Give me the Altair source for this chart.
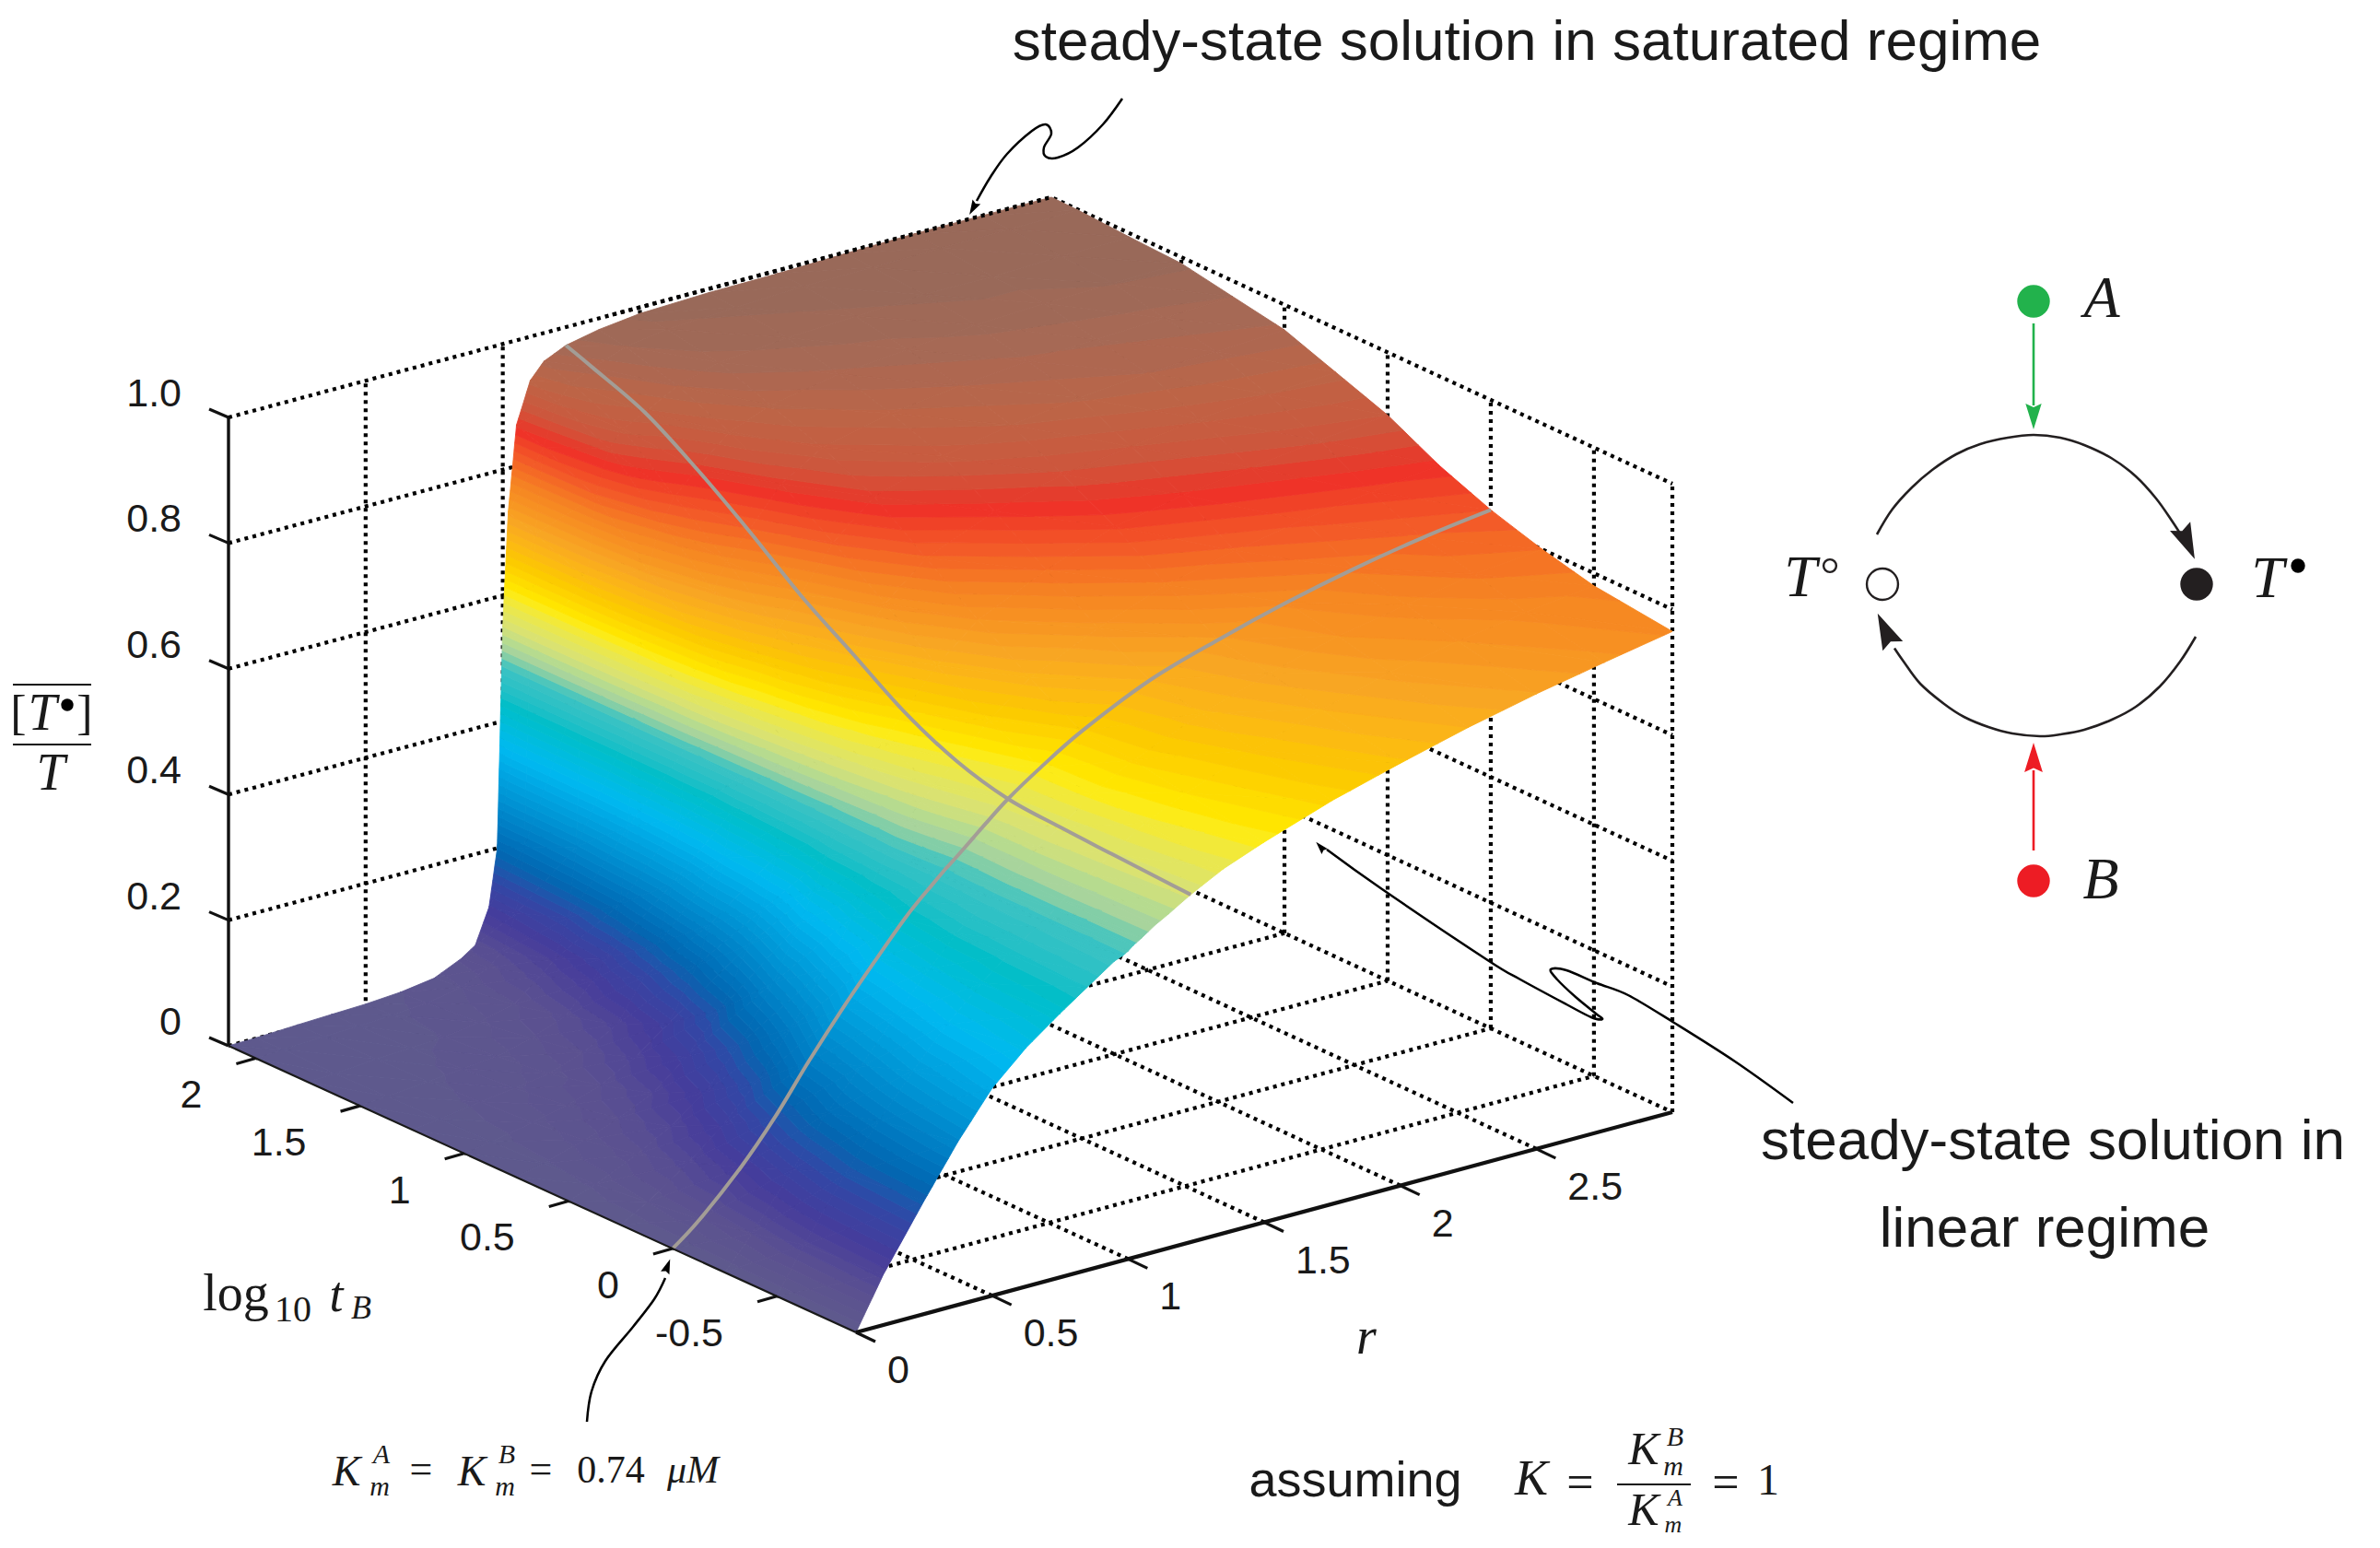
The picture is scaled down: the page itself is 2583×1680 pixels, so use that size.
import altair as alt
import pandas as pd

# ---- surface values --------------------------------------------------------
R_VALUES = [0, .1, .25, .375, .5, .625, .75, .85, .9, .95, .98, 1, 1.02, 1.05, 1.1, 1.15, 1.23, 1.35, 1.5, 1.75, 2, 2.25, 2.5, 2.75, 3]
T_VALUES = [-.88, -.5, -.25, 0, .25, .5, .75, 1, 1.25, 1.5, 1.75, 2, 2.13]
Z_TM088 = [0, .08, .18, .26, .33, .38, .42, .45, .465, .48, .485, .49, .497, .505, .52, .532, .553, .58, .605, .642, .672, .70, .724, .745, .765]
Z_TM050 = [0, .07, .165, .235, .30, .36, .41, .445, .46, .475, .484, .49, .497, .507, .523, .538, .56, .595, .625, .665, .70, .73, .75, .767, .78]
Z_TM025 = [0, .05, .135, .21, .27, .335, .395, .44, .458, .473, .483, .49, .497, .507, .525, .542, .565, .605, .64, .685, .72, .75, .77, .79, .80]
Z_T000 = [0, .035, .10, .165, .24, .31, .375, .425, .447, .467, .479, .487, .494, .505, .524, .543, .572, .608, .648, .70, .735, .765, .79, .81, .825]
Z_T025 = [0, .025, .07, .115, .17, .24, .32, .39, .42, .455, .48, .495, .505, .52, .545, .565, .595, .645, .695, .745, .785, .81, .83, .845, .858]
Z_T050 = [0, .015, .045, .075, .115, .175, .26, .345, .39, .44, .47, .49, .505, .53, .565, .595, .635, .695, .75, .80, .84, .86, .875, .89, .90]
Z_T075 = [0, .01, .03, .05, .075, .12, .18, .27, .32, .40, .45, .485, .515, .55, .605, .645, .69, .755, .81, .855, .885, .90, .915, .925, .93]
Z_T100 = [0, .007, .02, .033, .05, .08, .12, .2, .26, .36, .43, .48, .53, .585, .655, .70, .745, .815, .87, .905, .925, .94, .95, .955, .96]
Z_T125 = [0, .005, .015, .022, .03, .05, .08, .145, .19, .28, .38, .49, .57, .66, .73, .77, .81, .87, .91, .935, .95, .96, .965, .97, .975]
Z_T150 = [0, .003, .01, .015, .02, .035, .055, .10, .13, .21, .33, .50, .62, .73, .80, .835, .87, .915, .94, .96, .97, .98, .985, .988, .99]
Z_T175 = [0, .002, .007, .01, .013, .022, .035, .07, .09, .15, .26, .52, .68, .81, .88, .905, .922, .95, .97, .98, .985, .99, .99, .993, .994]
Z_T200 = [0, .002, .005, .007, .01, .015, .025, .045, .065, .12, .22, .54, .715, .85, .915, .94, .955, .975, .985, .99, .995, .995, .997, .998, .999]
Z_T213 = [0, .001, .004, .006, .008, .012, .02, .04, .055, .11, .2, .55, .73, .865, .93, .955, .971, .982, .99, .994, .995, .998, 1, 1, 1]
Z_ROWS = [Z_TM088, Z_TM050, Z_TM025, Z_T000, Z_T025, Z_T050, Z_T075, Z_T100, Z_T125, Z_T150, Z_T175, Z_T200, Z_T213]

Z_STOPS = [0, .05, .1, .15, .19, .28, .36, .43, .49, .515, .55, .61, .66, .72, .78, .82, .86, .89, .93, .97, 1]
Z_COLORS = ["#5f5a8c", "#5a5091", "#463c9b", "#3246a5", "#0564af", "#0091d2", "#00b9f0", "#00bec8",
            "#3cc3c3", "#a5d2a0", "#d7e178", "#ffeb00", "#fcc800", "#f8a523", "#f58223", "#f35a28", "#ee2d28",
            "#cd553c", "#be6446", "#a56955", "#96695a"]

R_TICKS = [0, .5, 1, 1.5, 2, 2.5]
R_TICK_TEXT = ["0", "0.5", "1", "1.5", "2", "2.5"]
T_TICKS = [-.5, 0, .5, 1, 1.5, 2]
T_TICK_TEXT = ["-0.5", "0", "0.5", "1", "1.5", "2"]
Z_TICKS = [0, .2, .4, .6, .8, 1]
Z_TICK_TEXT = ["0", "0.2", "0.4", "0.6", "0.8", "1.0"]
R_MAX, T_MIN, T_MAX = 3, -.88, 2.13

# corners of the box on the page
CORNER_B, CORNER_C, CORNER_A, CORNER_D = (929, 1446), (1815, 1207), (248, 1135), (1141, 896)
Z_PIXELS = 682


def project(r, t, z):
    u, v = r / R_MAX, (t - T_MIN) / (T_MAX - T_MIN)
    x = (1-u)*(1-v)*CORNER_B[0] + u*(1-v)*CORNER_C[0] + (1-u)*v*CORNER_A[0] + u*v*CORNER_D[0]
    y = (1-u)*(1-v)*CORNER_B[1] + u*(1-v)*CORNER_C[1] + (1-u)*v*CORNER_A[1] + u*v*CORNER_D[1]
    return x, y - Z_PIXELS * z


W, H = 2567, 1664
X = alt.X("x:Q", scale=alt.Scale(domain=[8, 8 + W], nice=False, zero=False), axis=None)
Y = alt.Y("y:Q", scale=alt.Scale(domain=[8 + H, 8], nice=False, zero=False), axis=None)


def lines(groups, color="black", width=2.0, dash=None, interpolate="linear"):
    rows = []
    for g, pts in enumerate(groups):
        for i, (x, y) in enumerate(pts):
            rows.append({"x": x, "y": y, "g": g, "i": i})
    kw = dict(color=color, strokeWidth=width, interpolate=interpolate, clip=False)
    if dash:
        kw["strokeDash"] = dash
    return alt.Chart(pd.DataFrame(rows)).mark_line(**kw).encode(
        x=X, y=Y, detail="g:N", order="i:Q")


def texts(rows, font="Liberation Sans", style="normal", align="center", color="#1a1a1a"):
    df = pd.DataFrame(rows, columns=["x", "y", "t", "s"])
    return alt.Chart(df).mark_text(font=font, fontStyle=style, align=align, baseline="middle", color=color).encode(
        x=X, y=Y, text="t:N", size=alt.Size("s:Q", scale=None, legend=None))


def dots(rows, filled=True, stroke=None, width=0):
    df = pd.DataFrame(rows, columns=["x", "y", "s", "c"])
    kw = dict(filled=True, opacity=1, shape="circle")
    if stroke:
        kw.update(stroke=stroke, strokeWidth=width)
    return alt.Chart(df).mark_point(**kw).encode(
        x=X, y=Y, size=alt.Size("s:Q", scale=None, legend=None), fill=alt.Fill("c:N", scale=None, legend=None))


def heads(rows):
    df = pd.DataFrame(rows, columns=["x", "y", "a", "s", "c"])
    return alt.Chart(df).mark_point(filled=True, opacity=1, shape="M0,-1L0.62,1L0,0.72L-0.62,1Z").encode(
        x=X, y=Y, angle=alt.Angle("a:Q", scale=None),
        size=alt.Size("s:Q", scale=None, legend=None), fill=alt.Fill("c:N", scale=None, legend=None))


# ---- surface: height bands clipped out of every triangle of the grid --------
LEVELS = 80


def clip(poly, level, keep_above):
    out = []
    for i, a in enumerate(poly):
        b = poly[(i + 1) % len(poly)]
        ina = a[2] >= level if keep_above else a[2] <= level
        inb = b[2] >= level if keep_above else b[2] <= level
        if ina:
            out.append(a)
        if ina != inb:
            f = (level - a[2]) / (b[2] - a[2])
            out.append((a[0] + f*(b[0]-a[0]), a[1] + f*(b[1]-a[1]), level))
    return out


features = []


def add_triangle(tri):
    lo = min(p[2] for p in tri)
    hi = max(p[2] for p in tri)
    for k in range(LEVELS):
        a, b = k / LEVELS, (k + 1) / LEVELS
        if b < lo or a > hi:
            continue
        poly = clip(clip(tri, a, True), b, False)
        if len(poly) < 3:
            continue
        ring = [[round(p[0], 1), round(p[1], 1)] for p in poly]
        ring.append(ring[0])
        features.append({"type": "Feature", "properties": {"z": (a + b) / 2},
                         "geometry": {"type": "Polygon", "coordinates": [ring]}})


def node(i, j):
    x, y = project(R_VALUES[j], T_VALUES[i], Z_ROWS[i][j])
    return (x, y, Z_ROWS[i][j])


for i in range(len(T_VALUES) - 2, -1, -1):
    for j in range(len(R_VALUES) - 2, -1, -1):
        add_triangle([node(i + 1, j + 1), node(i + 1, j), node(i, j + 1)])
        add_triangle([node(i, j), node(i, j + 1), node(i + 1, j)])

color_scale = alt.Scale(domain=Z_STOPS, range=Z_COLORS)
surface = alt.Chart(alt.Data(values=features)).mark_geoshape(strokeWidth=0.9).encode(
    color=alt.Color("properties.z:Q", scale=color_scale, legend=None),
    stroke=alt.Stroke("properties.z:Q", scale=color_scale, legend=None),
).project(type="identity", scale=1, translate=[-8, -8])

# ---- dotted box ---------------------------------------------------------------
DOT = [4, 5]
grid = []
for z in Z_TICKS:
    grid.append([project(0, T_MAX, z), project(R_MAX, T_MAX, z), project(R_MAX, T_MIN, z)])
for r in R_TICKS[1:]:
    grid.append([project(r, T_MAX, 0), project(r, T_MAX, 1)])
    grid.append([project(r, T_MIN, 0), project(r, T_MAX, 0)])
for t in T_TICKS:
    grid.append([project(R_MAX, t, 0), project(R_MAX, t, 1)])
    grid.append([project(0, t, 0), project(R_MAX, t, 0)])
grid.append([project(R_MAX, T_MAX, 0), project(R_MAX, T_MAX, 1)])
grid.append([project(R_MAX, T_MIN, 0), project(R_MAX, T_MIN, 1)])
dotted = lines(grid, width=4.2, dash=DOT)
top_edge = lines([[project(1.4, T_MAX, 1), project(R_MAX, T_MAX, 1)]], width=4.2, dash=DOT)

# gray curves on the surface
i0 = T_VALUES.index(0)
j0 = R_VALUES.index(1.23)
gray = lines([[project(r, 0, z) for r, z in zip(R_VALUES, Z_ROWS[i0])],
              [project(1.23, t, row[j0]) for t, row in zip(T_VALUES, Z_ROWS)]],
             color="#a39d96", width=4, interpolate="cardinal")

# solid axes and ticks
z_axis = lines([[project(0, T_MAX, 0), project(0, T_MAX, 1)]], color="#111", width=3.4)
t_axis = lines([[project(0, T_MIN, 0), project(0, T_MAX, 0)]], color="#1a1a1a", width=2.2)
r_axis = lines([[project(0, T_MIN, 0), project(R_MAX, T_MIN, 0)]], color="#111", width=4.2)
tick_segs = []
for z in Z_TICKS:
    x, y = project(0, T_MAX, z)
    tick_segs.append([(x, y), (x - 21, y - 9)])
for t in T_TICKS:
    x, y = project(0, t, 0)
    tick_segs.append([(x, y), (x - 21, y + 6)])
for r in R_TICKS:
    x, y = project(r, T_MIN, 0)
    tick_segs.append([(x, y), (x + 21, y + 10)])
ticks = lines(tick_segs, color="#111", width=3.2)

z_labels = texts([(project(0, T_MAX, z)[0] - 51, project(0, T_MAX, z)[1] - 25, s, 43)
                  for z, s in zip(Z_TICKS, Z_TICK_TEXT)], align="right")
t_labels = texts([(project(0, t, 0)[0] - 58, project(0, t, 0)[1] + 41, s, 43)
                  for t, s in zip(T_TICKS, T_TICK_TEXT)], align="right")
r_labels = texts([(project(r, T_MIN, 0)[0] + 34, project(r, T_MIN, 0)[1] + 42, s, 43)
                  for r, s in zip(R_TICKS, R_TICK_TEXT)], align="left")

# ---- annotations ----------------------------------------------------------------
ARROW_TOP = [(1218, 107), (1197, 135), (1170, 160), (1148, 171), (1135, 170), (1133, 160), (1141, 145),
             (1135, 135), (1120, 142), (1093, 167), (1075, 192), (1060, 218)]
ARROW_RIGHT = [(1946, 1197), (1883, 1152), (1817, 1110), (1767, 1080), (1733, 1067), (1700, 1053), (1683, 1052),
               (1690, 1063), (1710, 1082), (1732, 1100), (1739, 1106), (1727, 1104), (1700, 1090), (1650, 1063),
               (1616, 1043), (1500, 965), (1440, 922)]
ARROW_LEFT = [(637, 1543), (642, 1510), (657, 1477), (687, 1440), (710, 1410), (722, 1387)]
notes = lines([ARROW_TOP, ARROW_RIGHT, ARROW_LEFT], color="black", width=2.5, interpolate="cardinal")

ARC_TOP = [(2037, 580), (2053.5, 553), (2075, 529), (2097, 510), (2123, 493), (2149, 482), (2179, 475), (2207, 472),
           (2236, 475), (2262, 483), (2292, 497.5), (2318, 517), (2340, 541), (2357, 565), (2368, 582)]
ARC_BOTTOM = [(2383, 691), (2366, 718), (2344, 745), (2318, 767), (2292, 781), (2262, 792), (2236, 797), (2214, 799),
              (2184, 796), (2158, 789), (2131.5, 778), (2110, 764), (2084, 742), (2066, 718), (2056, 703.5)]
arcs = lines([ARC_TOP, ARC_BOTTOM], color="#231f20", width=2.6, interpolate="cardinal")
green_line = lines([[(2207, 351), (2207, 440)]], color="#22b24c", width=2.6)
red_line = lines([[(2207, 923), (2207, 836)]], color="#ed1c24", width=2.6)
bars = lines([[(14, 743), (99, 743)], [(14, 808), (99, 808)], [(1755, 1611), (1835, 1611)]], color="#111", width=2)

circles = dots([(2207, 327, 1257, "#22b24c"), (2207, 956, 1257, "#ed1c24"), (2384, 634, 1257, "#231f20"),
                (2494, 614, 237, "#000000"), (73, 765, 180, "#000000")])
open_circles = dots([(2043, 634, 1150, "#ffffff"), (1986, 614, 190, "#ffffff")], stroke="#231f20", width=2.4)
arrow_heads = heads([(1056, 226, 209, 256, "#000000"), (1433, 919, 318, 196, "#000000"),
                     (724.5, 1374, 20, 256, "#000000"), (2207, 452, 180, 784, "#22b24c"),
                     (2207, 822, 0, 1024, "#ed1c24"), (2374, 589, 156, 1521, "#231f20"),
                     (2046, 683.5, 335, 1521, "#231f20")])

big = texts([(1657, 46, "steady-state solution in saturated regime", 62),
             (2228, 1239, "steady-state solution in", 62),
             (2219, 1334, "linear regime", 62),
             (1471, 1608, "assuming", 54)])
roman = texts([(256, 1405, "log", 56), (318, 1422, "10", 40),
               (20, 775, "[", 52), (92, 775, "]", 52),
               (457, 1596, "=", 44), (587, 1596, "=", 44), (663, 1596, "0.74", 42),
               (1715, 1610, "=", 52), (1873, 1610, "=", 52), (1919, 1608, "1", 48)], font="Liberation Serif")
italic = texts([(365, 1407, "t", 54), (392, 1420, "B", 36), (1483, 1452, "r", 56),
                (2281, 325, "A", 64), (2280, 956, "B", 64), (1954, 628, "T", 64), (2461, 629, "T", 64),
                (46, 775, "T", 56), (55, 840, "T", 56),
                (376, 1598, "K", 46), (414, 1579, "A", 30), (412, 1614, "m", 30),
                (512, 1598, "K", 46), (550, 1579, "B", 30), (548, 1614, "m", 30), (752, 1596, "\u03bcM", 42),
                (1662, 1606, "K", 54), (1784, 1574, "K", 50), (1818, 1560, "B", 30), (1816, 1592, "m", 30),
                (1784, 1640, "K", 50), (1818, 1626, "A", 26), (1816, 1655, "m", 26)],
               font="Liberation Serif", style="italic")

chart = alt.layer(
    dotted, surface, top_edge, gray, t_axis, z_axis, r_axis, ticks, z_labels, t_labels, r_labels,
    notes, arcs, green_line, red_line, bars, circles, open_circles, arrow_heads, big, roman, italic,
).resolve_scale(color="independent").properties(
    width=W, height=H, padding=0, autosize="none", background="white"
).configure_view(stroke=None)

chart.save("out.html", embed_options={"renderer": "svg", "actions": False})
